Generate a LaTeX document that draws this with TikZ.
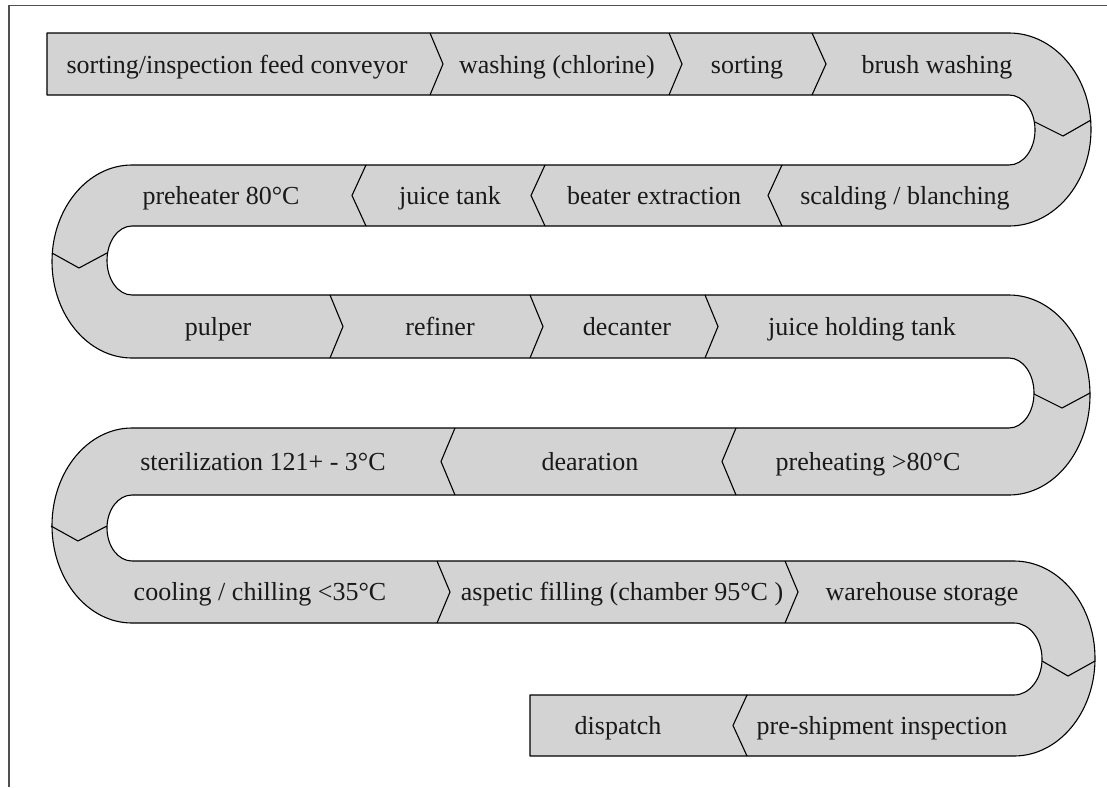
\documentclass[tikz,border=0pt]{standalone}
\usepackage{fontspec}
\setmainfont{Liberation Serif}
\definecolor{bandgray}{HTML}{D3D3D3}
\definecolor{framegray}{HTML}{505050}
\newcommand\chev[4]{\draw[sepline] (#1,#3) -- (#2,{(#3+#4)/2}) -- (#1,#4);}
\begin{document}
\begin{tikzpicture}[x=1pt,y=-1pt,
  band/.style={fill=bandgray,draw=black,line width=1.1pt,line join=round},
  sepline/.style={draw=black,line width=1.1pt},
  lbl/.style={font=\fontsize{26}{30}\selectfont,anchor=base,inner sep=0pt,text=black!90},
  framel/.style={draw=framegray,line width=1.3pt}]
\useasboundingbox (0,0) rectangle (1107,787);
\draw[framel] (9,787) -- (9,5.5) -- (1107,5.5);
% serpentine band
\draw[band]
  (47,33) -- (1009,33)
  arc[start angle=-90,end angle=90,x radius=82,y radius=96.5]
  -- (132,226)
  arc[start angle=270,end angle=90,x radius=25,y radius=34.5]
  -- (1009,295)
  arc[start angle=-90,end angle=90,x radius=81,y radius=100]
  -- (132,495)
  arc[start angle=270,end angle=90,x radius=25,y radius=33]
  -- (1014,561)
  arc[start angle=-90,end angle=90,x radius=81,y radius=97.5]
  -- (530,756) -- (530,695) -- (1014,695)
  arc[start angle=90,end angle=-90,x radius=28,y radius=36]
  -- (132,623)
  arc[start angle=90,end angle=270,x radius=80,y radius=97.5]
  -- (1009,428)
  arc[start angle=90,end angle=-90,x radius=25,y radius=35]
  -- (132,358)
  arc[start angle=90,end angle=270,x radius=80,y radius=96.5]
  -- (1009,165)
  arc[start angle=90,end angle=-90,x radius=26,y radius=35]
  -- (47,95) -- cycle;
% chevrons in rows
\chev{430}{443}{33}{95}
\chev{669}{682}{33}{95}
\chev{812}{826}{33}{95}
\chev{366}{352}{165}{226}
\chev{545}{531}{165}{226}
\chev{782}{768}{165}{226}
\chev{330}{343}{295}{358}
\chev{530}{543}{295}{358}
\chev{705}{718}{295}{358}
\chev{455}{441}{428}{495}
\chev{736}{722}{428}{495}
\chev{437}{450}{561}{623}
\chev{785}{798}{561}{623}
\chev{747}{733}{695}{756}
% chevrons in bends
\draw[sepline] (1035,122) -- (1063,136) -- (1091,120);
\draw[sepline] (52,253) -- (79,268) -- (107,253);
\draw[sepline] (1034,394) -- (1062,408) -- (1090,393);
\draw[sepline] (51,526) -- (78,541) -- (107,526);
\draw[sepline] (1042,661) -- (1068,676) -- (1095,661);
% labels
\node[lbl] (n1) at (237,73) {sorting/inspection feed conveyor};
\node[lbl] (n2) at (557,73) {washing (chlorine)};
\node[lbl] (n3) at (747,73) {sorting};
\node[lbl] (n4) at (937,73) {brush washing};
\node[lbl] (n5) at (905,204) {scalding / blanching};
\node[lbl] (n6) at (654,204) {beater extraction};
\node[lbl] (n7) at (450,204) {juice tank};
\node[lbl] (n8) at (221,204) {preheater 80°C};
\node[lbl] (n9) at (218,335) {pulper};
\node[lbl] (n10) at (440,335) {refiner};
\node[lbl] (n11) at (627,335) {decanter};
\node[lbl] (n12) at (862,335) {juice holding tank};
\node[lbl] (n13) at (868,470) {preheating >80°C};
\node[lbl] (n14) at (590,470) {dearation};
\node[lbl] (n15) at (263,470) {sterilization 121+ - 3°C};
\node[lbl] (n16) at (260,600) {cooling / chilling <35°C};
\node[lbl] (n17) at (622,600) {aspetic filling (chamber 95°C )};
\node[lbl] (n18) at (922,600) {warehouse storage};
\node[lbl] (n19) at (882,734) {pre-shipment inspection};
\node[lbl] (n20) at (618,734) {dispatch};
\end{tikzpicture}
\end{document}
